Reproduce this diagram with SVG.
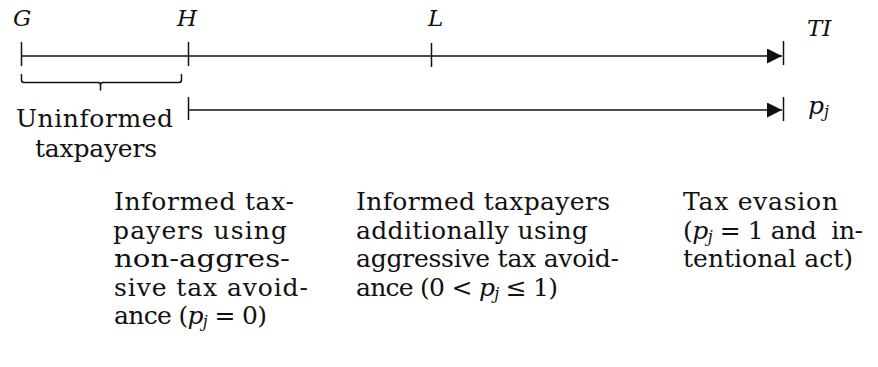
<svg xmlns="http://www.w3.org/2000/svg" width="878" height="367" viewBox="0 0 878 367">
<style>
.t{font-family:"DejaVu Serif","Liberation Serif",serif;font-size:25px;fill:#111}
.lab{font-family:"DejaVu Serif","Liberation Serif",serif;font-size:23px;font-style:italic;fill:#111}
.i{font-style:italic}
.sub{font-size:16px;font-style:italic}
.ln{stroke:#111;stroke-width:1.5;fill:none}
</style>
<defs>
<marker id="ah" markerWidth="16" markerHeight="16" refX="15" refY="7.5" orient="auto" markerUnits="userSpaceOnUse">
<path d="M0,0 L15,7.5 L0,15 Z" fill="#111"/>
</marker>
</defs>
<rect width="878" height="367" fill="#fff"/>
<g id="connectors">
<path class="ln" d="M21.5,56 H782" marker-end="url(#ah)"/>
<path class="ln" d="M21.5,42 V66"/>
<path class="ln" d="M188.5,42 V66"/>
<path class="ln" d="M431.5,43 V67"/>
<path class="ln" d="M783.5,41 V65"/>
<path class="ln" d="M189,110 H782" marker-end="url(#ah)"/>
<path class="ln" d="M188.5,97 V120"/>
<path class="ln" d="M783.5,97 V121"/>
<path class="ln" d="M21.5,74 V80 Q21.5,82.5 24,82.5 H98 Q100.5,82.5 100.5,85 V90.5 M100.5,85 Q100.5,82.5 103,82.5 H179 Q181.5,82.5 181.5,80 V74"/>
</g>
<g id="label-G"><text class="lab" x="13" y="26">G</text></g>
<g id="label-H"><text class="lab" x="177" y="26">H</text></g>
<g id="label-L"><text class="lab" x="428" y="26">L</text></g>
<g id="label-TI"><text class="lab" x="807" y="36">TI</text></g>
<g id="label-pj"><text class="t" x="808" y="114"><tspan class="i">p</tspan><tspan class="sub" dy="3">j</tspan></text></g>
<g id="uninformed">
<text class="t" x="16" y="127" textLength="157">Uninformed</text>
<text class="t" x="35" y="157" textLength="122">taxpayers</text>
</g>
<g id="non-aggressive">
<text class="t" x="114" y="210" textLength="180">Informed tax-</text>
<text class="t" x="113" y="238.5" textLength="174">payers using</text>
<text class="t" x="114" y="267" textLength="176" lengthAdjust="spacingAndGlyphs">non-aggres-</text>
<text class="t" x="114" y="295.5" textLength="194">sive tax avoid-</text>
<text class="t" x="114" y="324" textLength="153">ance (<tspan class="i">p</tspan><tspan class="sub" dy="3">j</tspan><tspan dy="-3"> = 0)</tspan></text>
</g>
<g id="aggressive">
<text class="t" x="356" y="210" textLength="254">Informed taxpayers</text>
<text class="t" x="356" y="238.5" textLength="232">additionally using</text>
<text class="t" x="356" y="267" textLength="263">aggressive tax avoid-</text>
<text class="t" x="356" y="295.5" textLength="202">ance (0 &lt; <tspan class="i">p</tspan><tspan class="sub" dy="3">j</tspan><tspan dy="-3"> ≤ 1)</tspan></text>
</g>
<g id="evasion">
<text class="t" x="683" y="210" textLength="155">Tax evasion</text>
<text class="t" x="683" y="238.5" textLength="180" xml:space="preserve">(<tspan class="i">p</tspan><tspan class="sub" dy="3">j</tspan><tspan dy="-3"> = 1 and  in-</tspan></text>
<text class="t" x="683" y="267" textLength="170">tentional act)</text>
</g>
</svg>
